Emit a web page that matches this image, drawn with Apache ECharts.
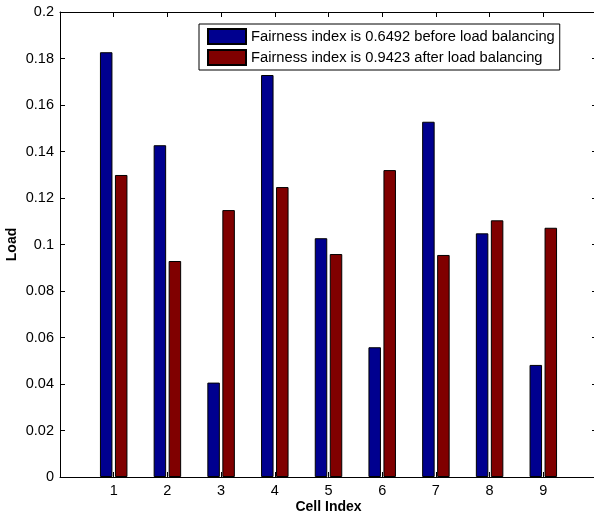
<!DOCTYPE html>
<html>
<head>
<meta charset="utf-8">
<script src="https://cdn.jsdelivr.net/npm/echarts@6/dist/echarts.min.js"></script>
<style>
  html, body { margin: 0; padding: 0; background: #fff; }
  #main { width: 594px; height: 513px; }
</style>
</head>
<body>
<div id="main"></div>
<script>
  // cell indices and loads
  var cells = [1, 2, 3, 4, 5, 6, 7, 8, 9];
  var loadBefore = [0.1827, 0.1427, 0.0406, 0.1729, 0.1027, 0.0558, 0.1528, 0.1048, 0.0482];
  var loadAfter = [0.1299, 0.0929, 0.1148, 0.1247, 0.0959, 0.1320, 0.0955, 0.1104, 0.1072];
  var nameBefore = 'Fairness index is 0.6492 before load balancing';
  var nameAfter = 'Fairness index is 0.9423 after load balancing';

  var font = 'Liberation Sans, Arial, Helvetica, sans-serif';

  function pairs(vals) {
    var out = [];
    for (var i = 0; i < cells.length; i++) {
      out.push([cells[i], vals[i]]);
    }
    return out;
  }

  var myChart = echarts.init(document.getElementById('main'));

  var tickStyle = { show: true, inside: true, length: 5, lineStyle: { color: '#000', width: 1 } };
  var lineStyle = { show: true, onZero: false, lineStyle: { color: '#000', width: 1 } };

  var option = {
    backgroundColor: '#fff',
    animation: false,
    grid: { left: 60, top: 12, width: 537, bottom: 36, containLabel: false, outerBoundsMode: 'none' },
    legend: {
      orient: 'vertical',
      left: 199,
      top: 24,
      padding: [4, 5, 4, 8],
      itemWidth: 38,
      itemHeight: 15,
      itemGap: 4,
      icon: 'rect',
      borderColor: '#000',
      borderWidth: 1,
      backgroundColor: '#fff',
      textStyle: { fontFamily: font, fontSize: 14.7, color: '#000' },
      data: [nameBefore, nameAfter]
    },
    xAxis: [
      {
        type: 'value',
        position: 'bottom',
        min: 0,
        max: 10,
        interval: 1,
        name: 'Cell Index',
        nameLocation: 'middle',
        nameGap: 23,
        nameMoveOverlap: false,
        nameTextStyle: { fontFamily: font, fontSize: 14, fontWeight: 'bold', color: '#000' },
        axisLine: lineStyle,
        axisTick: tickStyle,
        splitLine: { show: false },
        axisLabel: {
          fontFamily: font, fontSize: 14.5, color: '#000', margin: 6,
          formatter: function (v) { return (v < 1 || v > 9) ? '' : String(v); }
        }
      },
      {
        type: 'value',
        position: 'top',
        min: 0,
        max: 10,
        interval: 1,
        axisLine: lineStyle,
        axisTick: tickStyle,
        splitLine: { show: false },
        axisLabel: { show: false }
      }
    ],
    yAxis: [
      {
        type: 'value',
        position: 'left',
        min: 0,
        max: 0.2,
        interval: 0.02,
        name: 'Load',
        nameLocation: 'middle',
        nameGap: 41,
        nameMoveOverlap: false,
        nameTextStyle: { fontFamily: font, fontSize: 14, fontWeight: 'bold', color: '#000' },
        axisLine: lineStyle,
        axisTick: tickStyle,
        splitLine: { show: false },
        axisLabel: { fontFamily: font, fontSize: 14.5, color: '#000', margin: 6 }
      },
      {
        type: 'value',
        position: 'right',
        min: 0,
        max: 0.2,
        interval: 0.02,
        axisLine: lineStyle,
        axisTick: tickStyle,
        splitLine: { show: false },
        axisLabel: { show: false }
      }
    ],
    series: [
      {
        name: nameBefore,
        type: 'bar',
        xAxisIndex: 0,
        yAxisIndex: 0,
        barWidth: 12.5,
        barGap: '20%',
        itemStyle: { color: '#00008F', borderColor: '#000', borderWidth: 1 },
        data: pairs(loadBefore)
      },
      {
        name: nameAfter,
        type: 'bar',
        xAxisIndex: 0,
        yAxisIndex: 0,
        barWidth: 12.5,
        barGap: '20%',
        itemStyle: { color: '#800000', borderColor: '#000', borderWidth: 1 },
        data: pairs(loadAfter)
      }
    ]
  };

  myChart.setOption(option);
</script>
</body>
</html>
